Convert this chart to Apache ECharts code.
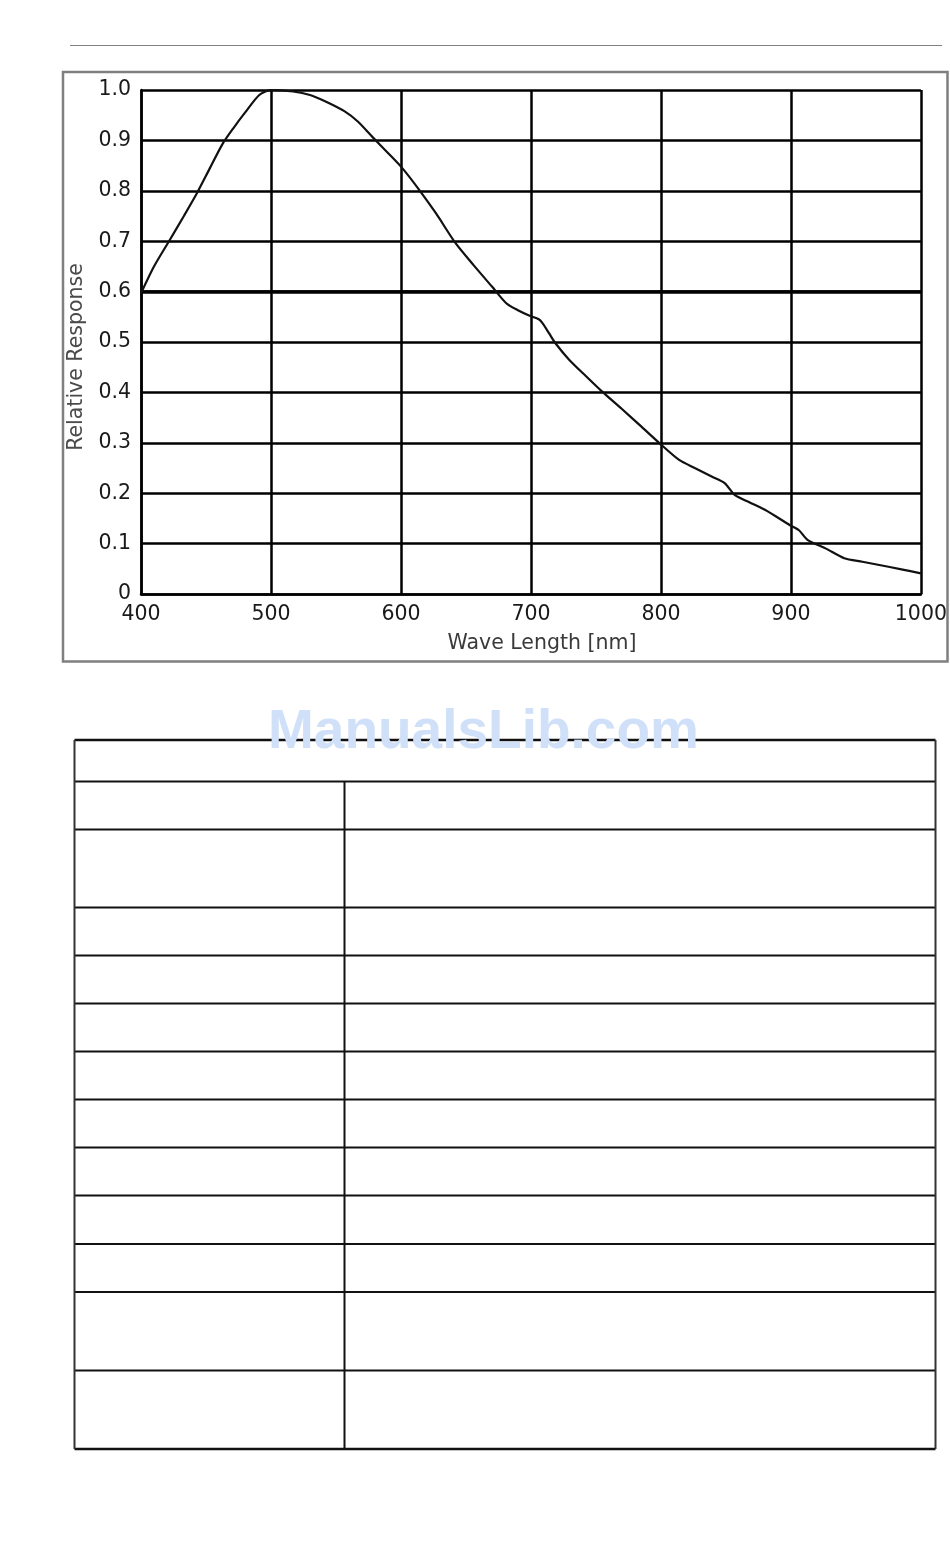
<!DOCTYPE html>
<html>
<head>
<meta charset="utf-8">
<script src="https://cdn.jsdelivr.net/npm/echarts@6/dist/echarts.min.js"></script>
<style>
html,body{margin:0;padding:0;background:#fff;}
#chart{width:950px;height:1568px;}
</style>
</head>
<body>
<div id="chart"></div>
<script>
// ---- data ----
const wavelengths = [400,410,422,433,443,453,463,471,480,491,500,517,530,542,557,567,578,590,601,614,627,642,656,670,681,690,699,706,709,714,719,729,742,755,770,785,799,814,826,839,849,857,868,880,899,906,913,927,941,955,967,985,1000];
const response    = [0.597,0.65,0.702,0.75,0.795,0.845,0.894,0.924,0.955,0.99,1.0,0.997,0.99,0.977,0.957,0.937,0.907,0.875,0.845,0.802,0.755,0.696,0.652,0.61,0.577,0.563,0.552,0.545,0.537,0.517,0.497,0.466,0.433,0.401,0.367,0.332,0.299,0.266,0.25,0.233,0.22,0.196,0.182,0.167,0.137,0.127,0.107,0.09,0.071,0.064,0.058,0.049,0.041];
const xTicks = [400,500,600,700,800,900,1000];
const yTicks = ['0','0.1','0.2','0.3','0.4','0.5','0.6','0.7','0.8','0.9','1.0'];
const xName = 'Wave Length [nm]';
const yName = 'Relative Response';
const watermark = 'ManualsLib.com';

// ---- layout (decoration) ----
const tableLeft = 74.5, tableRight = 935.5, tableDivider = 344.5;
const tableRows = [740, 781.5, 829.5, 907.5, 955.5, 1003.5, 1051.5, 1099.5, 1147.5, 1195.5, 1244, 1292, 1370.5, 1449];

const chart = echarts.init(document.getElementById('chart'), null, {renderer:'canvas'});

const graphics = [];
// header rule
graphics.push({type:'line', shape:{x1:70,y1:45.5,x2:942,y2:45.5}, style:{stroke:'#808080',lineWidth:1.2}, z:0});
// frame around chart
graphics.push({type:'rect', shape:{x:63,y:72,width:884.5,height:589.5}, style:{fill:null,stroke:'#7f7f7f',lineWidth:2.5}, z:0});
// table
tableRows.forEach((y,i)=>{
  const outer = (i===0 || i===tableRows.length-1);
  graphics.push({type:'line', shape:{x1:tableLeft,y1:y,x2:tableRight,y2:y}, style:{stroke:'#111',lineWidth: outer?2.4:2}, z:1});
});
graphics.push({type:'line', shape:{x1:tableLeft,y1:tableRows[0],x2:tableLeft,y2:tableRows[tableRows.length-1]}, style:{stroke:'#333',lineWidth:2}, z:1});
graphics.push({type:'line', shape:{x1:tableRight,y1:tableRows[0],x2:tableRight,y2:tableRows[tableRows.length-1]}, style:{stroke:'#333',lineWidth:2}, z:1});
graphics.push({type:'line', shape:{x1:tableDivider,y1:tableRows[1],x2:tableDivider,y2:tableRows[tableRows.length-1]}, style:{stroke:'#111',lineWidth:2}, z:1});
// watermark
graphics.push({type:'text', left:268, top:705, z:10, style:{text:watermark, fill:'#cfe0f8', font:'bold 55px "Liberation Sans", Arial, sans-serif'}});

const labelFont = '"DejaVu Sans", sans-serif';
const option = {
  backgroundColor:'#fff',
  animation:false,
  grid:{left:141, top:90, width:782, height:504, containLabel:false},
  xAxis:{
    type:'value', min:400, max:1000, interval:100,
    name:xName, nameLocation:'middle', nameGap:39,
    nameTextStyle:{color:'#3a3a3a', fontSize:20.5, fontFamily:labelFont, padding:[0,0,0,22]},
    axisLine:{show:true, lineStyle:{color:'#000', width:2.5}},
    axisTick:{show:false},
    axisLabel:{margin:10, color:'#1a1a1a', fontSize:20.5, fontFamily:labelFont,
      formatter:(v)=> xTicks.includes(v) ? String(v) : ''},
    splitLine:{show:true, lineStyle:{color:'#000', width:2.5}}
  },
  yAxis:{
    type:'value', min:0, max:1, interval:0.1,
    name:yName, nameLocation:'middle', nameGap:52,
    nameTextStyle:{color:'#4a4a4a', fontSize:20.5, fontFamily:labelFont, padding:[0,30,0,0]},
    axisLine:{show:true, lineStyle:{color:'#000', width:2.5}},
    axisTick:{show:false},
    axisLabel:{margin:10, color:'#1a1a1a', fontSize:20.5, fontFamily:labelFont,
      formatter:(v)=> yTicks[Math.round(v*10)]},
    splitLine:{show:true, lineStyle:{color:'#000', width:2.5}}
  },
  series:[{
    type:'line',
    data: wavelengths.map((w,i)=>[w, response[i]]),
    showSymbol:false,
    smooth:0.25,
    lineStyle:{color:'#111', width:2.2},
    z:5,
    markLine:{
      silent:true, symbol:'none', label:{show:false},
      lineStyle:{color:'#000', width:3.5, type:'solid'},
      data:[{yAxis:0.6}]
    }
  }],
  graphic: graphics
};
chart.setOption(option);
</script>
</body>
</html>
